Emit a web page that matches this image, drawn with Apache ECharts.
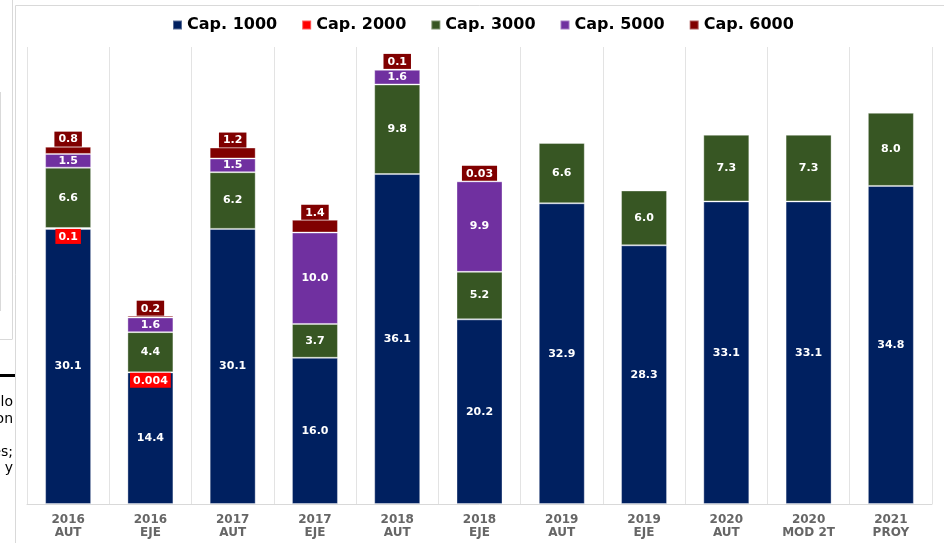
<!DOCTYPE html>
<html>
<head>
<meta charset="utf-8">
<title>Cap.</title>
<script src="https://cdn.jsdelivr.net/npm/echarts@6/dist/echarts.min.js"></script>
<style>
	html, body { margin: 0; padding: 0; background: #fff; }
	#chart { width: 944px; height: 543px; }
</style>
</head>
<body>
<div id="chart"></div>
<script>
//categorias del eje x
var categorias = ['2016\nAUT', '2016\nEJE', '2017\nAUT', '2017\nEJE', '2018\nAUT', '2018\nEJE',
	'2019\nAUT', '2019\nEJE', '2020\nAUT', '2020\nMOD 2T', '2021\nPROY'];

//valores por capitulo
var cap1000 = [30.1, 14.4, 30.1, 16.0, 36.1, 20.2, 32.9, 28.3, 33.1, 33.1, 34.8];
var cap2000 = [0.1, 0.004, null, null, null, null, null, null, null, null, null];
var cap3000 = [6.6, 4.4, 6.2, 3.7, 9.8, 5.2, 6.6, 6.0, 7.3, 7.3, 8.0];
var cap5000 = [1.5, 1.6, 1.5, 10.0, 1.6, 9.9, null, null, null, null, null];
var cap6000 = [0.8, 0.2, 1.2, 1.4, 0.1, 0.03, null, null, null, null, null];

var fuente = 'DejaVu Sans';

function etiqueta(p) {
	var v = p.value;
	if (v == null) return '';
	return v >= 0.1 ? v.toFixed(1) : String(v);
}

function serie(nombre, datos, color, label) {
	return {
		name: nombre,
		type: 'bar',
		stack: 'total',
		barWidth: 46,
		data: datos,
		itemStyle: {
			color: color,
			borderColor: 'rgba(255,255,255,0.35)',
			borderWidth: 1
		},
		label: label,
		emphasis: { disabled: true }
	};
}

var labelDentro = {
	show: true,
	position: 'inside',
	color: '#fff',
	fontFamily: fuente,
	fontWeight: 'bold',
	fontSize: 11,
	formatter: etiqueta
};

var option = {
	animation: false,
	legend: {
		left: 172,
		top: 17,
		padding: 0,
		itemWidth: 9,
		itemHeight: 9,
		itemGap: 24,
		icon: 'rect',
		textStyle: {
			fontFamily: fuente,
			fontWeight: 'bold',
			fontSize: 16,
			color: '#000'
		},
		data: ['Cap. 1000', 'Cap. 2000', 'Cap. 3000', 'Cap. 5000', 'Cap. 6000']
	},
	grid: { left: 27, right: 12, top: 47, bottom: 39, containLabel: false },
	xAxis: {
		type: 'category',
		data: categorias,
		axisLine: { lineStyle: { color: '#d9d9d9', width: 1 } },
		axisTick: { show: false },
		splitLine: { show: true, lineStyle: { color: '#e3e3e3', width: 1 } },
		axisLabel: {
			interval: 0,
			margin: 9,
			fontFamily: fuente,
			fontWeight: 'bold',
			fontSize: 12,
			lineHeight: 13,
			color: '#666'
		}
	},
	yAxis: {
		type: 'value',
		min: 0,
		max: 50,
		show: false,
		splitLine: { show: false }
	},
	graphic: [
		//recuadro de la grafica y restos de la pagina
		{ type: 'line', shape: { x1: 15.5, y1: 5.5, x2: 944, y2: 5.5 }, style: { stroke: '#d9d9d9', lineWidth: 1 } },
		{ type: 'line', shape: { x1: 15.5, y1: 5.5, x2: 15.5, y2: 543 }, style: { stroke: '#d9d9d9', lineWidth: 1 } },
		{ type: 'line', shape: { x1: 12.5, y1: 0, x2: 12.5, y2: 339 }, style: { stroke: '#d9d9d9', lineWidth: 1 } },
		{ type: 'line', shape: { x1: 0, y1: 339.5, x2: 12.5, y2: 339.5 }, style: { stroke: '#d9d9d9', lineWidth: 1 } },
		{ type: 'line', shape: { x1: 0.5, y1: 92, x2: 0.5, y2: 311 }, style: { stroke: '#d9d9d9', lineWidth: 1 } },
		{ type: 'line', shape: { x1: 0, y1: 375.5, x2: 15, y2: 375.5 }, style: { stroke: '#000', lineWidth: 3 } },
		{ type: 'text', style: { x: 13, y: 402, text: 'lo', align: 'right', verticalAlign: 'middle', font: '14px "DejaVu Sans"', fill: '#000' } },
		{ type: 'text', style: { x: 13, y: 419, text: 'on', align: 'right', verticalAlign: 'middle', font: '14px "DejaVu Sans"', fill: '#000' } },
		{ type: 'text', style: { x: 13, y: 452, text: 'es;', align: 'right', verticalAlign: 'middle', font: '14px "DejaVu Sans"', fill: '#000' } },
		{ type: 'text', style: { x: 13, y: 468, text: 'y', align: 'right', verticalAlign: 'middle', font: '14px "DejaVu Sans"', fill: '#000' } }
	],
	series: [
		serie('Cap. 1000', cap1000, '#002060', labelDentro),
		serie('Cap. 2000', cap2000, '#ff0000', {
			show: true,
			position: 'bottom',
			distance: 0,
			color: '#fff',
			fontFamily: fuente,
			fontWeight: 'bold',
			fontSize: 11,
			lineHeight: 12,
			backgroundColor: '#ff0000',
			padding: [2, 3, 1, 3],
			formatter: etiqueta
		}),
		serie('Cap. 3000', cap3000, '#375623', labelDentro),
		serie('Cap. 5000', cap5000, '#7030a0', labelDentro),
		serie('Cap. 6000', cap6000, '#800000', {
			show: true,
			position: 'top',
			distance: 0,
			color: '#fff',
			fontFamily: fuente,
			fontWeight: 'bold',
			fontSize: 11,
			lineHeight: 12,
			backgroundColor: '#800000',
			padding: [2, 4, 1, 4],
			formatter: etiqueta
		})
	]
};

var chart = echarts.init(document.getElementById('chart'));
chart.setOption(option);
</script>
</body>
</html>
